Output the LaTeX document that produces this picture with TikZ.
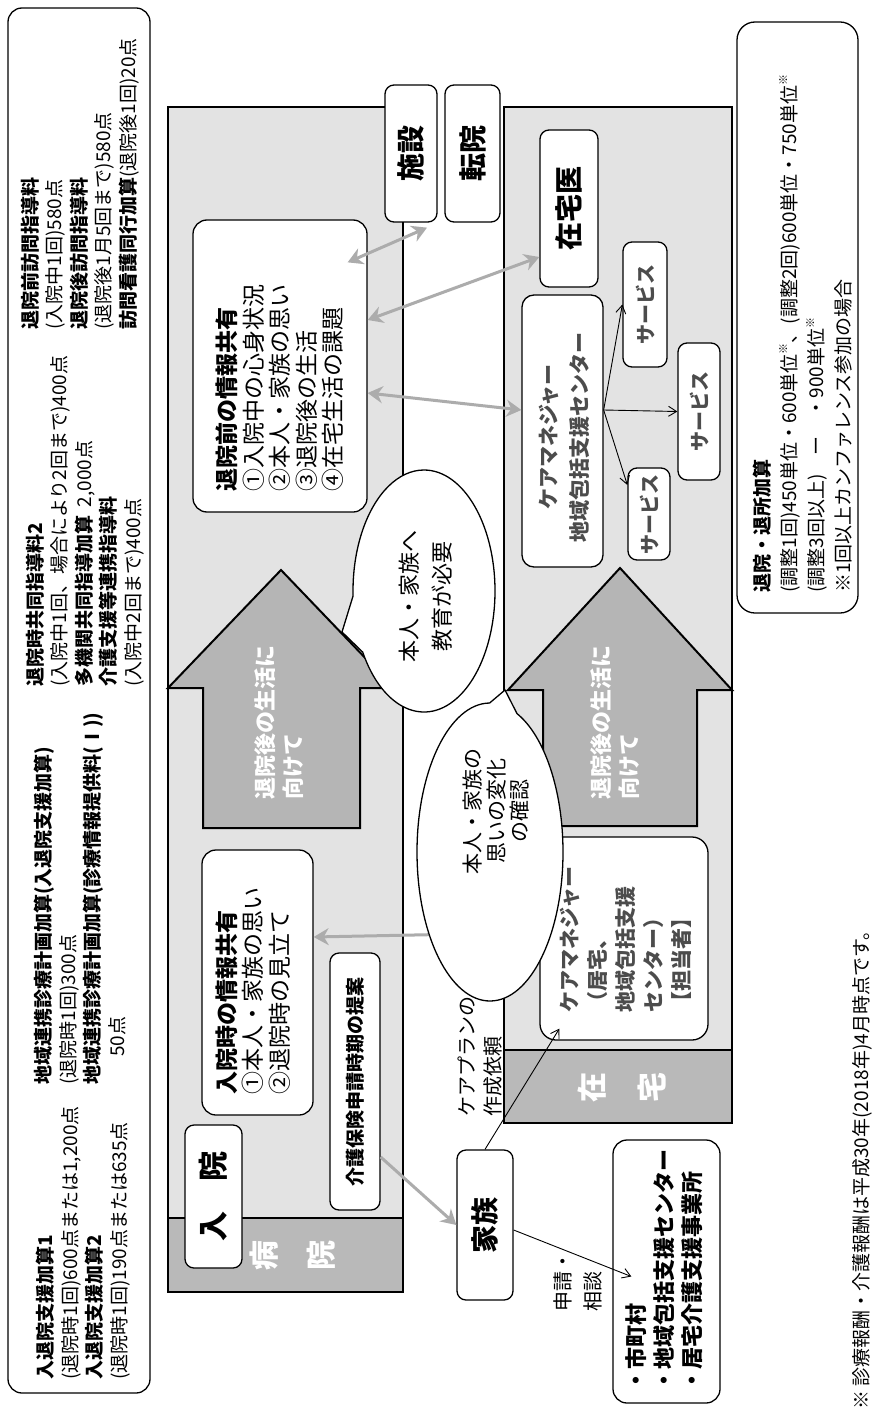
\documentclass[tikz,border=0pt]{standalone}
\usepackage{fontspec}
\setmainfont{Noto Sans CJK JP}
\usetikzlibrary{arrows.meta,shapes.callouts}
\newcommand{\kome}{\raisebox{0.5em}{\fontsize{11}{11}\selectfont ※}}
\begin{document}
\begin{tikzpicture}[x=1pt,y=-1pt,
  area/.style={draw=black,line width=1.6pt,fill=gray!22},
  box/.style={draw=black,line width=1.3pt,rounded corners=9pt,fill=white,inner sep=0pt},
  rt/.style={rotate=90,inner sep=0pt},
  dbl/.style={draw=gray!65,line width=3pt,{Stealth[length=15pt,width=17pt]}-{Stealth[length=15pt,width=17pt]}},
  sgl/.style={draw=gray!65,line width=3pt,-{Stealth[length=15pt,width=17pt]}},
  thinarr/.style={draw=black,line width=0.9pt,-{Straight Barb[length=8pt,width=10pt]}},
  house/.style={draw=black,line width=2pt,fill=gray!58},
  bubble/.style={ellipse callout,draw=black,line width=1.3pt,fill=white,inner sep=0pt}
]
\useasboundingbox (0,0) rectangle (875,1415);
\fill[white] (0,0) rectangle (875,1415);

% ---------- left information box ----------
\node[box,rounded corners=14pt,minimum width=142pt,minimum height=1385pt] (info) at (79,700.5) {};
\node[rt,anchor=west,align=left,font=\fontsize{19}{24.5}\selectfont] (gA) at (83,1380)
 {\textbf{入退院支援加算1}\\(退院時1回)600点または1,200点\\\textbf{入退院支援加算2}\\(退院時1回)190点または635点};
\node[rt,anchor=west,align=left,font=\fontsize{19}{24.5}\selectfont] (gB) at (80,1085)
 {\textbf{地域連携診療計画加算(入退院支援加算)}\\(退院時1回)300点\\\textbf{地域連携診療計画加算(診療情報提供料(Ⅰ))}\\\hspace{28pt}50点};
\node[rt,anchor=west,align=left,font=\fontsize{19}{24.5}\selectfont] (gC) at (85,687)
 {\textbf{退院時共同指導料2}\\(入院中1回、場合により2回まで)400点\\\textbf{多機関共同指導加算}\ \ 2,000点\\\textbf{介護支援等連携指導料}\\(入院中2回まで)400点};
\node[rt,anchor=west,align=left,font=\fontsize{19}{24.5}\selectfont] (gD) at (80,330)
 {\textbf{退院前訪問指導料}\\(入院中1回)580点\\\textbf{退院後訪問指導料}\\(退院後1月5回まで)580点\\\textbf{訪問看護同行加算}(退院後1回)20点};

% ---------- areas ----------
\draw[area] (168,107) rectangle (403,1292);
\fill[gray!55] (168,1218) rectangle (403,1292);
\draw[line width=1.2pt] (168,1218) -- (403,1218);
\draw[line width=1.6pt] (168,107) rectangle (403,1292);
\node[rt,align=center,text=white,font=\bfseries\fontsize{30}{57}\selectfont] (byoinT) at (293,1255) {病\\院};

\draw[area] (504,107) rectangle (732,1123);
\fill[gray!55] (504,1050) rectangle (732,1123);
\draw[line width=1.2pt] (504,1050) -- (732,1050);
\draw[line width=1.6pt] (504,107) rectangle (732,1123);
\node[rt,align=center,text=white,font=\bfseries\fontsize{30}{60}\selectfont] (zaitakuT) at (622,1087) {在\\宅};

% ---------- house arrows ----------
\draw[house] (281,570) -- (394,688) -- (360,688) -- (360,828) -- (203,828) -- (203,688) -- (168,688) -- cycle;
\node[rt,anchor=west,align=left,text=white,font=\bfseries\fontsize{22}{28}\selectfont] (h1T) at (279,800) {退院後の生活に\\向けて};
\draw[house] (620,568) -- (732,690) -- (697,690) -- (697,826) -- (543,826) -- (543,690) -- (508,690) -- cycle;
\node[rt,anchor=west,align=left,text=white,font=\bfseries\fontsize{22}{28}\selectfont] (h2T) at (615,800) {退院後の生活に\\向けて};

% ---------- boxes ----------
\node[box,minimum width=52pt,minimum height=137pt] (shisetsu) at (411,153.5) {};
\node[rt,font=\bfseries\fontsize{28}{28}\selectfont] (shisetsuT) at (shisetsu) {施設};
\node[box,minimum width=55pt,minimum height=137pt] (tenin) at (472.5,153.5) {};
\node[rt,font=\bfseries\fontsize{28}{28}\selectfont] (teninT) at (tenin) {転院};

\node[box,rounded corners=14pt,minimum width=174pt,minimum height=292pt] (taizen) at (280,366) {};
\node[rt,anchor=west,align=left,font=\fontsize{23}{26.5}\selectfont] (taizenT) at (280,492)
 {\textbf{退院前の情報共有}\\①入院中の心身状況\\②本人・家族の思い\\③退院後の生活\\④在宅生活の課題};

\node[box,rounded corners=14pt,minimum width=111pt,minimum height=265pt] (nyuinji) at (257.5,982.5) {};
\node[rt,anchor=west,align=left,font=\fontsize{23}{26.5}\selectfont] (nyuinjiT) at (253,1095)
 {\textbf{入院時の情報共有}\\①本人・家族の思い\\②退院時の見立て};

\node[box,minimum width=50pt,minimum height=257pt] (kaigo) at (355,1081.5) {};
\node[rt,font=\bfseries\fontsize{19}{19}\selectfont] (kaigoT) at (kaigo) {介護保険申請時期の提案};

\node[box,minimum width=57pt,minimum height=143pt] (nyuin) at (213.5,1196.5) {};
\node[rt,font=\bfseries\fontsize{30}{30}\selectfont] (nyuinT) at (nyuin) {入　院};

\node[box,minimum width=56pt,minimum height=150pt] (kazoku) at (485,1225) {};
\node[rt,font=\bfseries\fontsize{28}{28}\selectfont] (kazokuT) at (kazoku) {家族};

\node[box,rounded corners=14pt,minimum width=107pt,minimum height=263pt] (shichoson) at (666.5,1271.5) {};
\node[rt,anchor=west,align=left,font=\bfseries\fontsize{22}{28}\selectfont] (shichosonT) at (664,1392)
 {・市町村\\・地域包括支援センター\\・居宅介護支援事業所};

\node[box,minimum width=58pt,minimum height=157pt] (zaitakui) at (569,208.5) {};
\node[rt,font=\bfseries\fontsize{28}{28}\selectfont] (zaitakuiT) at (zaitakui) {在宅医};

\node[box,rounded corners=12pt,minimum width=81pt,minimum height=272pt] (kmhoukatsu) at (562.5,431) {};
\node[rt,align=center,text=black!70,font=\bfseries\fontsize{21}{31}\selectfont] (kmhoukatsuT) at (564,437)
 {ケアマネジャー\\地域包括支援センター};

\node[box,minimum width=44pt,minimum height=125pt] (servA) at (645,304.5) {};
\node[rt,text=black!70,font=\bfseries\fontsize{20}{20}\selectfont] (servAT) at (servA) {サービス};
\node[box,minimum width=42pt,minimum height=137pt] (servB) at (699,411.5) {};
\node[rt,text=black!70,font=\bfseries\fontsize{20}{20}\selectfont] (servBT) at (servB) {サービス};
\node[box,minimum width=42pt,minimum height=92pt] (servC) at (649,514) {};
\node[rt,text=black!70,font=\bfseries\fontsize{20}{20}\selectfont] (servCT) at (servC) {サービス};

\node[box,rounded corners=16pt,minimum width=168pt,minimum height=203pt] (kmbox) at (624,938.5) {};
\node[rt,anchor=west,align=left,text=black!70,font=\bfseries\fontsize{21}{28}\selectfont] (kmboxT) at (626,1013)
 {ケアマネジャー\\（居宅、\\地域包括支援\\センター）\\【担当者】};

% ---------- right information box ----------
\node[box,rounded corners=18pt,minimum width=121pt,minimum height=591pt] (info2) at (797.5,317.5) {};
\node[rt,anchor=west,align=left,font=\fontsize{19}{27}\selectfont] (info2T) at (803,593)
 {\textbf{退院・退所加算}\\(調整1回)450単位・600単位\kome、(調整2回)600単位・750単位\kome\\(調整3回以上)\quad ー\quad ・900単位\kome\\※1回以上カンファレンス参加の場合};

% ---------- connectors ----------
\draw[dbl] ([shift={(-20,43)}]taizen.north east) -- ([shift={(16,5)}]shisetsu.south);
\draw[dbl] ([yshift=46pt]taizen.east) -- ([yshift=-48.5pt]zaitakui.west);
\draw[dbl] ([yshift=-27pt]taizen.east) -- ([yshift=21pt]kmhoukatsu.west);
\draw[dbl] ([yshift=45.5pt]nyuinji.east) -- ([yshift=6pt]kmbox.west);
\draw[sgl] ([yshift=-75.5pt]kaigo.east) -- (kazoku.west);
\draw[thinarr] (kazoku.north) -- ([shift={(20,-12)}]kmbox.south west);
\draw[thinarr] ([yshift=-5pt]kazoku.east) -- ([shift={(19,5)}]shichoson.west);
\draw[thinarr] ([yshift=21pt]kmhoukatsu.east) -- (servA.west);
\draw[thinarr] ([yshift=21pt]kmhoukatsu.east) -- (servB.west);
\draw[thinarr] ([yshift=21pt]kmhoukatsu.east) -- ([yshift=29pt]servC.west);

\node[rt,anchor=west,align=left,font=\fontsize{20}{26}\selectfont] (careplanT) at (480,1117) {ケアプランの\\作成依頼};
\node[rt,anchor=west,align=left,font=\fontsize{20}{30}\selectfont] (shinseiT) at (578,1312) {申請・\\相談};

% ---------- speech bubbles ----------
\node[bubble,minimum width=142pt,minimum height=242pt,callout absolute pointer={(342,632)},callout pointer arc=28] (bub1) at (424,591) {};
\node[rt,align=center,font=\fontsize{22}{33}\selectfont] (bub1T) at (426,596) {本人・家族へ\\教育が必要};
\node[bubble,minimum width=146pt,minimum height=298pt,callout absolute pointer={(505,690)},callout pointer arc=22] (bub2) at (490,852) {};
\node[rt,align=center,font=\fontsize{21}{23.5}\selectfont] (bub2T) at (496,811) {本人・家族の\\思いの変化\\の確認};

% ---------- footnote ----------
\node[rt,anchor=west,font=\fontsize{19}{19}\selectfont] (foot) at (862,1410) {※ 診療報酬・介護報酬は平成30年(2018年)4月時点です。};
\end{tikzpicture}
\end{document}
